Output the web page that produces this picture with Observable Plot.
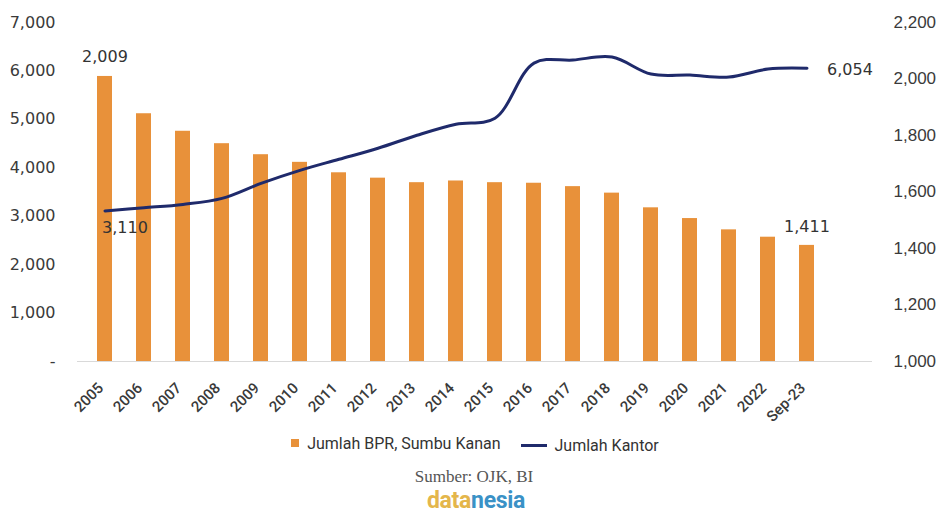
<!DOCTYPE html>
<html><head><meta charset="utf-8">
<script src="https://cdn.jsdelivr.net/npm/d3@7"></script>
<script src="https://cdn.jsdelivr.net/npm/@observablehq/plot@0.6"></script>
<style>
body{margin:0;background:#fff;}
#wrap{position:relative;width:940px;height:515px;overflow:hidden;background:#fff;}
#chart{position:absolute;left:0;top:0;}
#chart svg{overflow:visible;}
#legend{position:absolute;left:0;top:432px;width:950px;text-align:center;font-family:Roboto,sans-serif;font-size:16px;color:#333;white-space:nowrap;}
#legend .item{display:inline-flex;align-items:center;margin:0 10px;}
#legend .sq{display:inline-block;width:8px;height:8px;background:#E8913A;margin-right:8px;}
#legend .ln{display:inline-block;width:26px;height:3px;background:#1f2a6b;margin-right:8px;}
#source{position:absolute;left:0;top:467px;width:948px;text-align:center;font-family:"Liberation Serif",serif;font-size:17px;color:#555;}
#logo{position:absolute;left:0;top:487px;width:952px;text-align:center;font-family:Roboto,sans-serif;font-weight:700;font-size:23px;letter-spacing:-0.3px;}
#logo .d{color:#E4B64B;} #logo .n{color:#3A91C6;}
</style></head><body>
<div id="wrap">
<div id="chart"></div>
<div id="legend"><span class="item"><span class="sq"></span>Jumlah BPR, Sumbu Kanan</span><span class="item"><span class="ln"></span>Jumlah Kantor</span></div>
<div id="source">Sumber: OJK, BI</div>
<div id="logo"><span class="d">data</span><span class="n">nesia</span></div>
</div>
<script>
const categories = ["2005","2006","2007","2008","2009","2010","2011","2012","2013","2014","2015","2016","2017","2018","2019","2020","2021","2022","Sep-23"];
const jumlahBPR = [2009,1877,1815,1771,1732,1705,1668,1649,1633,1639,1633,1631,1619,1596,1544,1506,1466,1440,1411];
const jumlahKantor = [3110,3175,3244,3368,3678,3947,4175,4403,4672,4900,5024,6162,6224,6286,5935,5914,5873,6038,6054];
const leftTicks = [0,1000,2000,3000,4000,5000,6000,7000];
const rightTicks = [1000,1200,1400,1600,1800,2000,2200];

const rMin = 1000, rMax = 2200, lMax = 7000;
const toLeft = v => (v - rMin) * lMax / (rMax - rMin);
const fromLeft = v => v * (rMax - rMin) / lMax + rMin;
const fmt = d3.format(",");

const data = categories.map((c, i) => ({cat: c, bpr: jumlahBPR[i], kantor: jumlahKantor[i]}));
const first = [data[0]], last = [data[data.length - 1]];

const chart = Plot.plot({
  width: 940, height: 430,
  marginLeft: 77, marginRight: 68, marginTop: 22, marginBottom: 69,
  style: {fontFamily: "DejaVu Sans", fontSize: "16px", color: "#3a3a3a", background: "transparent"},
  x: {type: "band", domain: categories, range: [77.6, 832.4], paddingInner: 0.62, paddingOuter: 0.31},
  y: {domain: [0, lMax]},
  marks: [
    Plot.ruleY([0], {stroke: "#d9d9d9", strokeWidth: 1}),
    Plot.barY(data, {x: "cat", y: d => toLeft(d.bpr), fill: "#E8913A"}),
    Plot.line(data, {x: "cat", y: "kantor", curve: "catmull-rom", stroke: "#1f2a6b", strokeWidth: 3}),
    Plot.axisY(leftTicks, {anchor: "left", tickSize: 0, tickPadding: 22, label: null,
      tickFormat: d => d === 0 ? "-" : fmt(d), fontSize: 16, fontFamily: "DejaVu Sans"}),
    Plot.axisY(rightTicks.map(toLeft), {anchor: "right", tickSize: 0, tickPadding: 21, label: null,
      tickFormat: d => fmt(Math.round(fromLeft(d))), fontSize: 17, fontFamily: "Liberation Sans"}),
    Plot.axisX({tickSize: 0, tickPadding: 24, tickRotate: -45, label: null, fontSize: 15, fontFamily: "Roboto", fontWeight: 500, dx: -4}),
    Plot.text(first, {x: "cat", y: d => toLeft(d.bpr), text: d => fmt(d.bpr), dy: -20, fontSize: 16, fill: "#333"}),
    Plot.text(last, {x: "cat", y: d => toLeft(d.bpr), text: d => fmt(d.bpr), dy: -19, fontSize: 16, fill: "#333"}),
    Plot.text(first, {x: "cat", y: "kantor", text: d => fmt(d.kantor), dy: 17, dx: -3, textAnchor: "start", fontSize: 16, fill: "#333"}),
    Plot.text(last, {x: "cat", y: "kantor", text: d => fmt(d.kantor), dy: 2, dx: 20, textAnchor: "start", fontSize: 16, fill: "#333"})
  ]
});
document.getElementById("chart").appendChild(chart);
</script>
</body></html>
